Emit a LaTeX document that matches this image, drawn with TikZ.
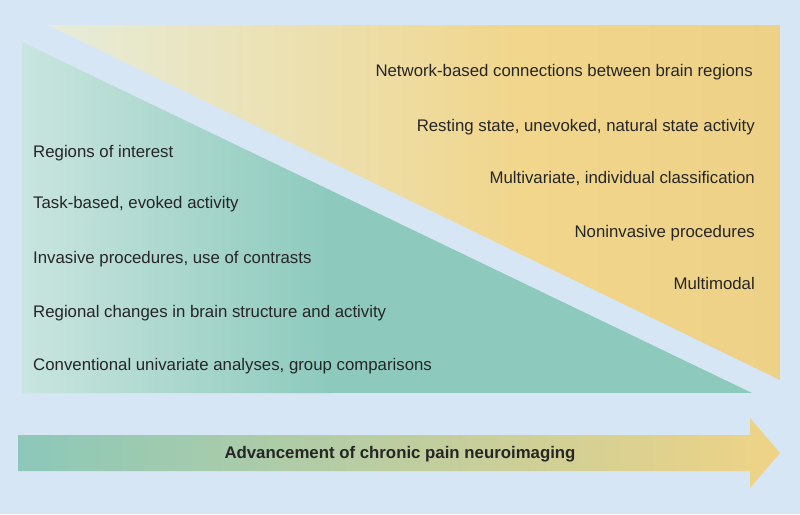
\documentclass[tikz,border=0pt]{standalone}
\usepackage{fontspec}
\setmainfont{Liberation Sans}
\definecolor{bg}{HTML}{D7E6F5}
\definecolor{tealA}{HTML}{C9E5DF}
\definecolor{tealB}{HTML}{8DCABD}
\definecolor{yelA}{HTML}{E6ECDA}
\definecolor{yelB}{HTML}{F1D68C}
\definecolor{yelC}{HTML}{ECD187}
\definecolor{arrA}{HTML}{8CC8B9}
\definecolor{arrB}{HTML}{EFD386}
\definecolor{txt}{HTML}{262626}
\begin{document}
\begin{tikzpicture}[x=1pt,y=-1pt,
  lbl/.style={font=\fontsize{16.8}{20}\selectfont, text=txt, inner sep=0pt},
  lblL/.style={lbl, anchor=base west},
  lblR/.style={lbl, anchor=base east},
  lblB/.style={lbl, anchor=base, font=\fontsize{16.8}{20}\selectfont\bfseries}]
\fill[bg] (0,0) rectangle (800,514);
\useasboundingbox (0,0) rectangle (800,514);
% yellow triangle
\begin{scope}
  \clip (48,25) -- (780,25) -- (780,380) -- cycle;
  \shade[left color=yelA, right color=yelB] (48,25) rectangle (520,380);
  \shade[left color=yelB, right color=yelC] (519,25) rectangle (780,380);
\end{scope}
% teal triangle
\begin{scope}
  \clip (22,42) -- (752,393) -- (22,393) -- cycle;
  \shade[left color=tealA, right color=tealB] (22,42) rectangle (330,393);
  \fill[tealB] (329,42) rectangle (752,393);
\end{scope}
% arrow
\shade[left color=arrA, right color=arrB]
  (18,435) -- (750,435) -- (750,418) -- (780,453) -- (750,488) -- (750,471) -- (18,471) -- cycle;
% left texts
\node[lblL] (l1) at (33,157) {Regions of interest};
\node[lblL] (l2) at (33,208) {Task-based, evoked activity};
\node[lblL] (l3) at (33,263) {Invasive procedures, use of contrasts};
\node[lblL] (l4) at (33,317) {Regional changes in brain structure and activity};
\node[lblL] (l5) at (33,370) {Conventional univariate analyses, group comparisons};
% right texts
\node[lblR] (r1) at (753,76) {Network-based connections between brain regions};
\node[lblR] (r2) at (755,131) {Resting state, unevoked, natural state activity};
\node[lblR] (r3) at (755,183) {Multivariate, individual classification};
\node[lblR] (r4) at (755,237) {Noninvasive procedures};
\node[lblR] (r5) at (755,289) {Multimodal};
% arrow label
\node[lblB] (adv) at (400,458) {Advancement of chronic pain neuroimaging};
\end{tikzpicture}
\end{document}
